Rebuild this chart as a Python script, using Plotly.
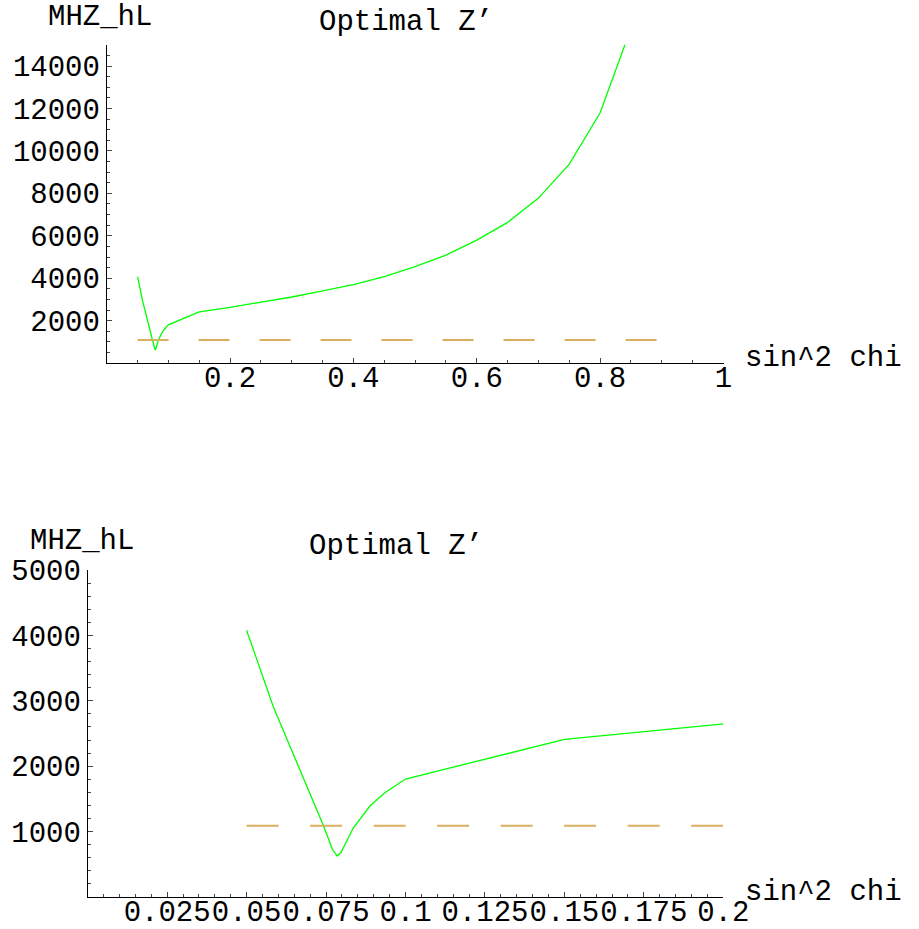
import plotly.graph_objects as go

# ---- data ----
sin2chi = [0.0500, 0.0584, 0.0741, 0.0770, 0.0785, 0.0797, 0.0835, 0.0888, 0.0935,
           0.1000, 0.1500, 0.2000, 0.2500, 0.3000, 0.3500, 0.4000, 0.4500, 0.5000,
           0.5500, 0.6000, 0.6500, 0.7000, 0.7500, 0.8000, 0.8500]
mhz_hl = [4080, 2910, 1100, 730, 627, 680, 1050, 1391, 1595,
          1804, 2410, 2630, 2870, 3115, 3405, 3700, 4080, 4550,
          5085, 5796, 6630, 7776, 9378, 11796, 15780]
ref_x = [0.05, 0.9]
ref_y = [1090, 1090]

top_xticks = [0.2, 0.4, 0.6, 0.8, 1.0]
top_xlabels = ["0.2", "0.4", "0.6", "0.8", "1"]
top_yticks = [2000, 4000, 6000, 8000, 10000, 12000, 14000]
top_ylabels = ["2000", "4000", "6000", "8000", "10000", "12000", "14000"]
bot_xticks = [0.025, 0.05, 0.075, 0.1, 0.125, 0.15, 0.175, 0.2]
bot_xlabels = ["0.025", "0.05", "0.075", "0.1", "0.125", "0.15", "0.175", "0.2"]
bot_yticks = [1000, 2000, 3000, 4000, 5000]
bot_ylabels = ["1000", "2000", "3000", "4000", "5000"]

W, H = 919, 929
FONT = "Courier New, Liberation Mono, monospace"
FS = 29
GREEN = "#00ff00"
TAN = "#d8b060"

def px_x(p):
    return p / W

def px_y(p):
    return (H - p) / H

fig = go.Figure()

# top plot
fig.add_trace(go.Scatter(x=sin2chi, y=mhz_hl, mode="lines", xaxis="x", yaxis="y",
                         line=dict(color=GREEN, width=1.3), showlegend=False))
fig.add_trace(go.Scatter(x=ref_x, y=ref_y, mode="lines", xaxis="x", yaxis="y",
                         line=dict(color=TAN, width=2, dash="31px,30px"), showlegend=False))
# bottom plot
fig.add_trace(go.Scatter(x=sin2chi, y=mhz_hl, mode="lines", xaxis="x2", yaxis="y2",
                         line=dict(color=GREEN, width=1.3), showlegend=False))
fig.add_trace(go.Scatter(x=ref_x, y=ref_y, mode="lines", xaxis="x2", yaxis="y2",
                         line=dict(color=TAN, width=2, dash="32px,31.5px"), showlegend=False))

axis_common = dict(showline=True, linecolor="black", linewidth=1, showgrid=False,
                   zeroline=False, ticks="inside", ticklen=5, tickcolor="#444",
                   automargin=False,
                   tickfont=dict(family=FONT, size=FS, color="black"), tickangle=0)

fig.update_layout(
    width=W, height=H,
    margin=dict(l=0, r=0, t=0, b=0),
    paper_bgcolor="white", plot_bgcolor="white",
    xaxis=dict(domain=[px_x(106.7), px_x(723.5)], range=[0, 1], anchor="y",
               tickmode="array", tickvals=top_xticks, ticktext=top_xlabels,
               ticklabelstandoff=-12,
               minor=dict(dtick=0.05, tick0=0, ticks="inside", ticklen=3, tickcolor="#444"),
               **axis_common),
    yaxis=dict(domain=[px_y(363.1), px_y(44.8)], range=[0, 15000], anchor="x",
               tickmode="array", tickvals=top_yticks, ticktext=top_ylabels,
               minor=dict(dtick=500, tick0=0, ticks="inside", ticklen=3, tickcolor="#444"),
               **axis_common),
    xaxis2=dict(domain=[px_x(87.7), px_x(723.3)], range=[0, 0.2], anchor="y2",
                tickmode="array", tickvals=bot_xticks, ticktext=bot_xlabels,
                ticklabelstandoff=-12,
                minor=dict(dtick=0.005, tick0=0, ticks="inside", ticklen=3, tickcolor="#444"),
                **axis_common),
    yaxis2=dict(domain=[px_y(897), px_y(570)], range=[0, 5000], anchor="x2",
                tickmode="array", tickvals=bot_yticks, ticktext=bot_ylabels,
                minor=dict(dtick=200, tick0=0, ticks="inside", ticklen=3, tickcolor="#444"),
                **axis_common),
)

def label(text, x_left, y_center):
    fig.add_annotation(text=text, xref="paper", yref="paper",
                       x=px_x(x_left), y=px_y(y_center), xanchor="left", yanchor="middle",
                       showarrow=False, font=dict(family=FONT, size=FS, color="black"))

label("MHZ_hL", 46, 18)
label("Optimal Z\u2019", 317, 22)
label("sin^2 chi", 743, 358)
label("MHZ_hL", 28, 541)
label("Optimal Z\u2019", 307, 547)
label("sin^2 chi", 743, 892)

fig.write_html("out.html", config={"displayModeBar": False},
               post_script="document.body.style.margin='0px';")
